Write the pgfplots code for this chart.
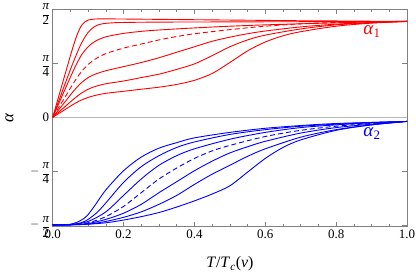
\documentclass[border=0pt]{standalone}
\usepackage{pgfplots}
\pgfplotsset{compat=1.18}
\usepackage{fontspec}
\setmainfont{Liberation Serif}
\definecolor{framegray}{RGB}{128,128,128}
\definecolor{zerogray}{RGB}{185,185,185}
\definecolor{mred}{RGB}{255,0,0}
\definecolor{mblue}{RGB}{0,0,255}
\newcommand{\pifrac}[1]{\ensuremath{\vcenter{\offinterlineskip\halign{\hfil##\hfil\cr \strut\itshape π\cr\noalign{\kern0.3bp\hrule height 0.5bp\kern1.2bp} \vphantom{2}#1\cr}}}}
\newcommand{\pifractop}{\raisebox{0pt}[\dimexpr\height+5bp\relax]{\pifrac{2}}}
\begin{document}
\begin{tikzpicture}
\begin{axis}[
  scale only axis, width=354.3bp, height=217.2bp,
  xmin=0, xmax=1, ymin=-1.594, ymax=1.577,
  axis line style={framegray, line width=0.8bp},
  xtick={0,0.2,0.4,0.6,0.8,1},
  xticklabels={0.0,0.2,0.4,0.6,0.8,1.0},
  minor x tick num=3,
  ytick={-1.5708,-0.7854,0,0.7854,1.5708},
  yticklabels={{$-\;$\pifrac{2}},{$-\;$\pifrac{4}},0,\pifrac{4},\pifractop},
  tick align=inside,
  major tick length=5bp, minor tick length=2.8bp,
  tick style={framegray, line width=0.6bp},
  tick label style={font=\fontsize{13}{15}\selectfont},
  /pgf/number format/assume math mode=true,
  every axis plot/.append style={line width=0.9bp, smooth},
]
\addplot[zerogray, line width=0.9bp, sharp plot] coordinates {(0,0) (1,0)};
% red curves (alpha_1)
\addplot[mred] coordinates {(0,0) (0.01,0.18) (0.02,0.36) (0.03,0.54) (0.04,0.72) (0.05,0.90) (0.06,1.07) (0.07,1.22) (0.08,1.33) (0.09,1.39) (0.1,1.42) (0.12,1.435) (0.15,1.437) (0.2,1.435) (0.3,1.43) (0.4,1.425) (0.5,1.42) (0.6,1.415) (0.7,1.41) (0.8,1.407) (0.9,1.403) (1,1.40)};
\addplot[mred] coordinates {(0,0) (0.02,0.28) (0.04,0.56) (0.06,0.83) (0.08,1.07) (0.1,1.24) (0.12,1.33) (0.14,1.365) (0.17,1.38) (0.2,1.385) (0.3,1.39) (0.5,1.393) (0.7,1.396) (1,1.40)};
\addplot[mred] coordinates {(0,0) (0.02,0.235) (0.04,0.47) (0.06,0.70) (0.08,0.90) (0.1,1.03) (0.12,1.11) (0.15,1.175) (0.2,1.225) (0.25,1.255) (0.3,1.275) (0.4,1.305) (0.5,1.33) (0.6,1.35) (0.7,1.365) (0.8,1.38) (0.9,1.392) (1,1.40)};
\addplot[mred, dash pattern=on 5bp off 3bp] coordinates {(0,0) (0.02,0.17) (0.04,0.34) (0.06,0.51) (0.08,0.66) (0.1,0.77) (0.12,0.85) (0.15,0.93) (0.2,1.01) (0.25,1.07) (0.3,1.13) (0.35,1.18) (0.4,1.22) (0.5,1.28) (0.6,1.33) (0.7,1.365) (0.8,1.385) (0.9,1.395) (1,1.40)};
\addplot[mred] coordinates {(0,0) (0.02,0.13) (0.04,0.26) (0.06,0.39) (0.08,0.50) (0.1,0.58) (0.12,0.63) (0.15,0.68) (0.2,0.74) (0.25,0.80) (0.3,0.87) (0.35,0.95) (0.4,1.03) (0.45,1.11) (0.5,1.17) (0.55,1.22) (0.6,1.26) (0.7,1.32) (0.8,1.36) (0.9,1.385) (1,1.40)};
\addplot[mred] coordinates {(0,0) (0.02,0.09) (0.04,0.18) (0.06,0.27) (0.08,0.35) (0.1,0.41) (0.12,0.45) (0.15,0.49) (0.2,0.53) (0.25,0.58) (0.3,0.63) (0.35,0.70) (0.4,0.78) (0.45,0.90) (0.5,1.03) (0.55,1.13) (0.6,1.20) (0.7,1.29) (0.8,1.35) (0.9,1.38) (1,1.40)};
\addplot[mred] coordinates {(0,0) (0.02,0.065) (0.04,0.13) (0.06,0.195) (0.08,0.25) (0.1,0.29) (0.12,0.32) (0.15,0.35) (0.2,0.38) (0.25,0.41) (0.3,0.44) (0.35,0.48) (0.4,0.54) (0.45,0.64) (0.5,0.80) (0.55,0.97) (0.6,1.10) (0.65,1.19) (0.7,1.25) (0.8,1.33) (0.9,1.375) (1,1.40)};
% blue curves (alpha_2)
\addplot[mblue] coordinates {(0,-1.5708) (0.03,-1.570) (0.05,-1.56) (0.07,-1.53) (0.09,-1.47) (0.1,-1.42) (0.12,-1.28) (0.15,-1.06) (0.2,-0.78) (0.25,-0.58) (0.3,-0.45) (0.35,-0.37) (0.4,-0.30) (0.5,-0.22) (0.6,-0.16) (0.7,-0.12) (0.8,-0.09) (0.9,-0.075) (1,-0.06)};
\addplot[mblue] coordinates {(0,-1.5708) (0.05,-1.565) (0.08,-1.54) (0.1,-1.49) (0.125,-1.39) (0.15,-1.25) (0.2,-0.95) (0.25,-0.72) (0.3,-0.56) (0.35,-0.44) (0.4,-0.36) (0.5,-0.25) (0.6,-0.18) (0.7,-0.13) (0.8,-0.10) (0.9,-0.075) (1,-0.06)};
\addplot[mblue] coordinates {(0,-1.5708) (0.05,-1.567) (0.1,-1.52) (0.15,-1.38) (0.2,-1.14) (0.25,-0.90) (0.3,-0.70) (0.35,-0.56) (0.4,-0.46) (0.5,-0.32) (0.6,-0.22) (0.7,-0.15) (0.8,-0.11) (0.9,-0.08) (1,-0.06)};
\addplot[mblue, dash pattern=on 5bp off 3bp] coordinates {(0,-1.5708) (0.05,-1.568) (0.1,-1.54) (0.15,-1.45) (0.2,-1.30) (0.25,-1.10) (0.3,-0.90) (0.35,-0.74) (0.4,-0.60) (0.45,-0.49) (0.5,-0.41) (0.6,-0.28) (0.7,-0.19) (0.8,-0.13) (0.9,-0.09) (1,-0.06)};
\addplot[mblue] coordinates {(0,-1.5708) (0.05,-1.569) (0.1,-1.55) (0.15,-1.49) (0.2,-1.40) (0.25,-1.27) (0.3,-1.10) (0.35,-0.94) (0.4,-0.78) (0.45,-0.64) (0.5,-0.52) (0.55,-0.43) (0.6,-0.35) (0.7,-0.23) (0.8,-0.15) (0.9,-0.10) (1,-0.06)};
\addplot[mblue] coordinates {(0,-1.5708) (0.05,-1.569) (0.1,-1.56) (0.15,-1.52) (0.2,-1.46) (0.25,-1.38) (0.3,-1.27) (0.35,-1.14) (0.4,-0.98) (0.45,-0.83) (0.5,-0.70) (0.55,-0.57) (0.6,-0.46) (0.7,-0.29) (0.8,-0.18) (0.9,-0.11) (1,-0.06)};
\addplot[mblue] coordinates {(0,-1.5708) (0.05,-1.57) (0.1,-1.56) (0.15,-1.54) (0.2,-1.50) (0.25,-1.45) (0.3,-1.39) (0.35,-1.31) (0.4,-1.22) (0.45,-1.12) (0.5,-1.00) (0.55,-0.80) (0.6,-0.60) (0.65,-0.44) (0.7,-0.33) (0.8,-0.19) (0.9,-0.11) (1,-0.06)};
\node[mred, anchor=base west, inner sep=0pt, font=\fontsize{19}{21}\selectfont] at (axis cs:0.876,1.21) {\textit{α}\raisebox{-3bp}{\fontsize{13}{15}\selectfont 1}};
\node[mblue, anchor=base west, inner sep=0pt, font=\fontsize{19}{21}\selectfont] at (axis cs:0.876,-0.283) {\textit{α}\raisebox{-3bp}{\fontsize{13}{15}\selectfont 2}};
\end{axis}
\node[rotate=90, anchor=base, inner sep=0pt, font=\fontsize{17}{19}\selectfont] at ([xshift=-39.4bp]current axis.west) {\textit{α}};
\node[anchor=base, inner sep=0pt, font=\fontsize{16}{18}\selectfont] at ([yshift=-41.2bp]current axis.south) {\textit{T}/\textit{T}\textsubscript{\textit{c}}(\textit{v})};
\pgfresetboundingbox
\path[use as bounding box] ([xshift=-52.7bp,yshift=-48.5bp]current axis.south west) rectangle ([xshift=9bp,yshift=9.3bp]current axis.north east);
\end{tikzpicture}
\end{document}
